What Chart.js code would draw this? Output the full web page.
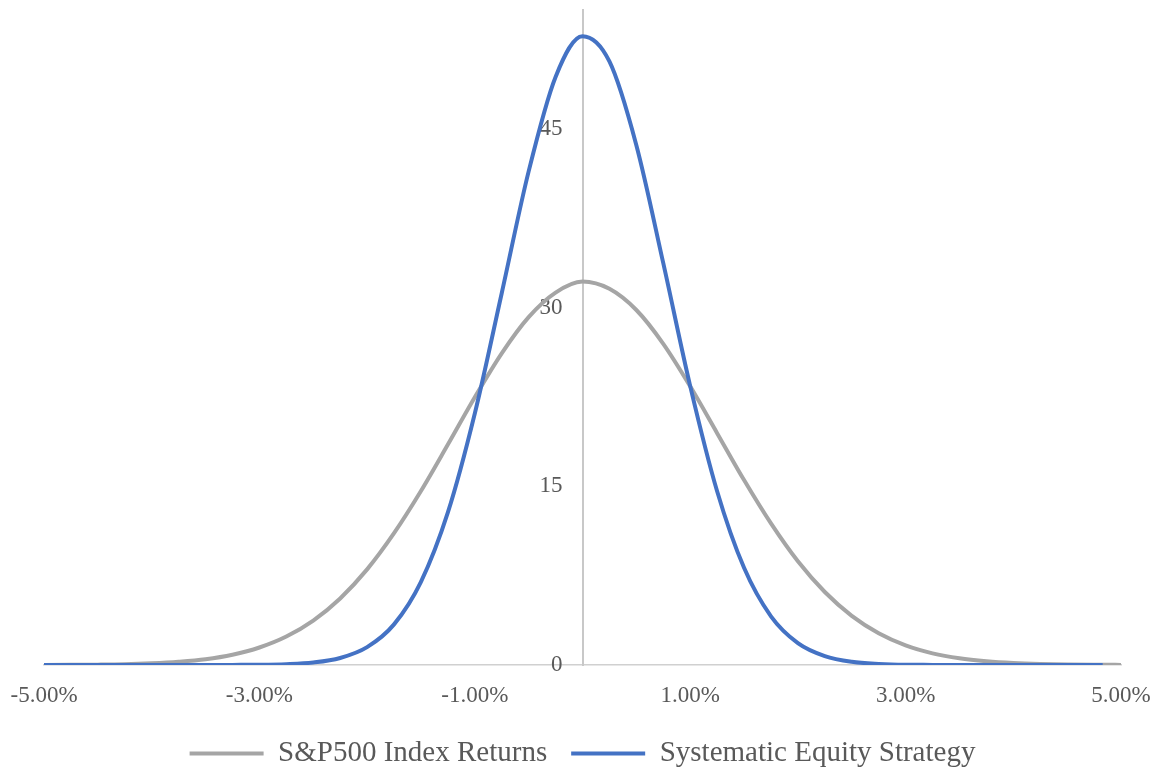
<!DOCTYPE html>
<html>
<head>
<meta charset="utf-8">
<script src="https://cdn.jsdelivr.net/npm/chart.js@4.4.1/dist/chart.umd.min.js"></script>
<style>
  html, body { margin: 0; padding: 0; background: #ffffff; }
  #wrap { width: 1156px; height: 769px; }
</style>
</head>
<body>
<div id="wrap"><canvas id="distChart" width="1156" height="769"></canvas></div>
<script>
// series names (legend order)
const seriesNames = ['S&P500 Index Returns', 'Systematic Equity Strategy'];

// daily return (%) and density for the S&P500 curve
const sp500Returns = [-5, -4.75, -4.5, -4.25, -4, -3.75, -3.5, -3.25, -3, -2.75, -2.5, -2.25, -2, -1.75, -1.5, -1.25, -1, -0.75, -0.5, -0.25,
  0, 0.25, 0.5, 0.75, 1, 1.25, 1.5, 1.75, 2, 2.25, 2.5, 2.75, 3, 3.25, 3.5, 3.75, 4, 4.25, 4.5, 4.75, 5];
const sp500Density = [0.01, 0.02, 0.03, 0.06, 0.14, 0.27, 0.48, 0.86, 1.47, 2.39, 3.73, 5.59, 8.03, 11.07, 14.61, 18.51, 22.48, 26.17, 29.21, 31.27,
  32.2, 31.59, 29.81, 26.97, 23.40, 19.47, 15.53, 11.89, 8.71, 6.13, 4.13, 2.67, 1.65, 0.98, 0.56, 0.31, 0.16, 0.08, 0.04, 0.02, 0.01];

// daily return (%) and density for the strategy curve
const strategyReturns = [-5, -4.75, -4.5, -4.25, -4, -3.75, -3.5, -3.25, -3, -2.75, -2.5, -2.25, -2, -1.75, -1.5, -1.25, -1, -0.75, -0.5, -0.25,
  0, 0.25, 0.5, 0.75, 1, 1.25, 1.5, 1.75, 2, 2.25, 2.5, 2.75, 3, 3.25, 3.5, 3.75, 4, 4.25, 4.5, 4.75, 4.83];
const strategyDensity = [0, 0, 0, 0, 0, 0, 0, 0.01, 0.02, 0.07, 0.21, 0.59, 1.50, 3.41, 6.98, 12.81, 21.12, 31.22, 41.45, 49.38,
  52.8, 50.68, 43.65, 33.74, 23.42, 14.59, 8.16, 4.09, 1.84, 0.75, 0.27, 0.09, 0.02, 0.01, 0, 0, 0, 0, 0, 0, 0];

// axis settings
const xMin = -5, xMax = 5, xStep = 2;
const yMin = 0, yMax = 55, yStep = 15;

const toPoints = (xs, ys) => xs.map((x, i) => ({ x: x, y: ys[i] }));

// keep the plot area where the layout padding puts it
const noPadding = scale => {
    scale.paddingLeft = 0;
    scale.paddingRight = 0;
    scale.paddingTop = 0;
    scale.paddingBottom = 0;
};

const textColor = '#595959';
const serif = "'Liberation Serif', 'Times New Roman', serif";

const ctx = document.getElementById('distChart').getContext('2d');
new Chart(ctx, {
    type: 'line',
    data: {
        datasets: [{
            label: seriesNames[0],
            data: toPoints(sp500Returns, sp500Density),
            borderColor: '#a5a5a5',
            backgroundColor: '#a5a5a5',
            borderWidth: 4,
            pointRadius: 0,
            cubicInterpolationMode: 'monotone',
            order: 1
        }, {
            label: seriesNames[1],
            data: toPoints(strategyReturns, strategyDensity),
            borderColor: '#4472c4',
            backgroundColor: '#4472c4',
            borderWidth: 4,
            pointRadius: 0,
            cubicInterpolationMode: 'monotone',
            order: 0
        }]
    },
    options: {
        responsive: false,
        animation: false,
        layout: { padding: { left: 44, right: 35, top: 10, bottom: -9 } },
        plugins: {
            tooltip: { enabled: false },
            legend: {
                position: 'bottom',
                labels: {
                    usePointStyle: true,
                    pointStyle: 'line',
                    pointStyleWidth: 74,
                    padding: 24,
                    color: textColor,
                    font: { family: serif, size: 29 },
                    sort: (a, b) => a.datasetIndex - b.datasetIndex
                }
            }
        },
        scales: {
            x: {
                type: 'linear',
                min: xMin,
                max: xMax,
                grid: { display: false, drawTicks: false },
                border: { display: true, color: '#d0d0d0', width: 1.5 },
                ticks: {
                    stepSize: xStep,
                    padding: 17,
                    maxRotation: 0,
                    color: textColor,
                    font: { family: serif, size: 23 },
                    callback: v => v.toFixed(2) + '%'
                },
                afterFit: scale => { noPadding(scale); scale.height = 50; }
            },
            y: {
                type: 'linear',
                position: 'center',
                min: yMin,
                max: yMax,
                grid: { display: false, drawTicks: false },
                border: { display: true, color: '#c8c8c8', width: 2 },
                ticks: {
                    stepSize: yStep,
                    includeBounds: false,
                    padding: 20,
                    color: textColor,
                    font: { family: serif, size: 23 }
                },
                afterFit: noPadding
            }
        }
    }
});
</script>
</body>
</html>
